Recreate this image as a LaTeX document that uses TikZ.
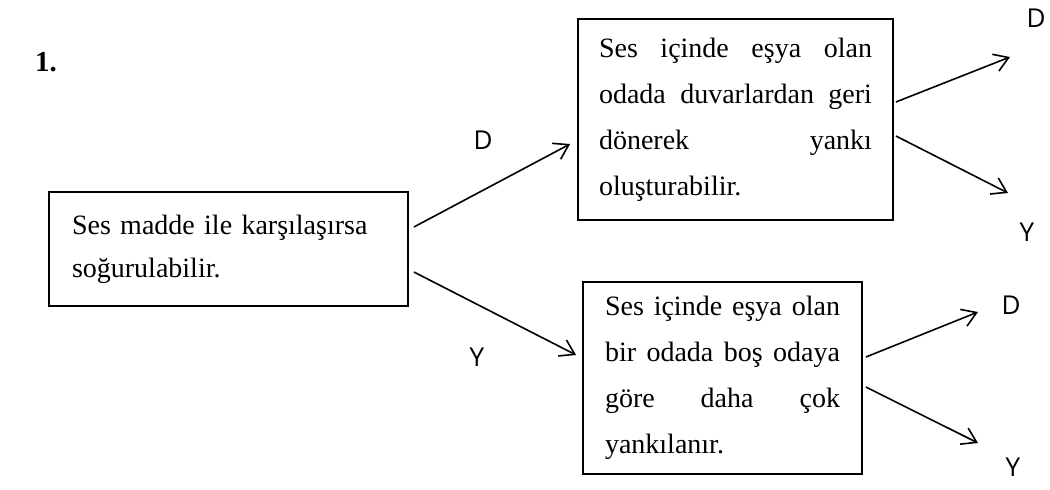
\documentclass[tikz,border=0pt]{standalone}
\usepackage{fontspec}
\setmainfont{Liberation Serif}
\newfontfamily\lblfont{Open Sans}
\usetikzlibrary{arrows.meta}
\newcommand{\jline}[1]{\makebox[\linewidth][s]{\spaceskip=.25em plus 10em\relax #1}}

\begin{document}
\begin{tikzpicture}[
  x=0.5pt, y=-0.5pt,
  box/.style={draw, line width=0.9pt, align=left, inner ysep=0pt, font=\fontsize{14}{23}\selectfont},
  arr/.style={-{Straight Barb[length=7pt,width=9pt]}, line width=0.8pt},
  lbl/.style={font=\lblfont\fontsize{13}{15}\selectfont, inner sep=0pt}
]
\useasboundingbox (0,0) rectangle (1050,489);
\node[font=\bfseries\fontsize{14.5}{16}\selectfont] (num) at (46,62) {1.};
\node[box, font=\fontsize{14}{21.5}\selectfont, minimum width=179.5pt, minimum height=57pt, text width=156.5pt, inner xsep=11.5pt] (ses) at (228.5,249)
  {Ses madde ile karşılaşırsa\\ soğurulabilir.};
\node[box, minimum width=157.5pt, minimum height=100.5pt, text width=136.5pt, inner xsep=10.5pt] (geri) at (735.5,119.5)
  {\jline{Ses içinde eşya olan}\\ \jline{odada duvarlardan geri}\\ \jline{dönerek yankı}\\ oluşturabilir.};
\node[box, minimum width=139.5pt, minimum height=96pt, text width=117.5pt, inner xsep=11pt] (bos) at (722.5,378)
  {\jline{Ses içinde eşya olan}\\ \jline{bir odada boş odaya}\\ \jline{göre daha çok}\\ yankılanır.};
% answer labels
\node[lbl] (d1) at (483,140) {D};
\node[lbl] (y1) at (477,357) {Y};
\node[lbl] (d2) at (1036,18) {D};
\node[lbl] (y2) at (1027,232) {Y};
\node[lbl] (d3) at (1011,305) {D};
\node[lbl] (y3) at (1013,467) {Y};
\coordinate (e2) at (1010,57);
\coordinate (f2) at (1008,193);
\coordinate (e3) at (978,312);
\coordinate (f3) at (978,443);
\draw[arr] ([xshift=2.5pt,yshift=11pt]ses.east) -- ([xshift=-3.5pt,yshift=-12.25pt]geri.west);
\draw[arr] ([xshift=2.5pt,yshift=-11.5pt]ses.east) -- ([xshift=-3pt,yshift=11.5pt]bos.west);
\draw[arr] ([xshift=1pt,yshift=8.75pt]geri.east) -- (e2);
\draw[arr] ([xshift=1pt,yshift=-8.25pt]geri.east) -- (f2);
\draw[arr] ([xshift=1.5pt,yshift=10.5pt]bos.east) -- (e3);
\draw[arr] ([xshift=1.5pt,yshift=-4.5pt]bos.east) -- (f3);
\end{tikzpicture}
\end{document}
